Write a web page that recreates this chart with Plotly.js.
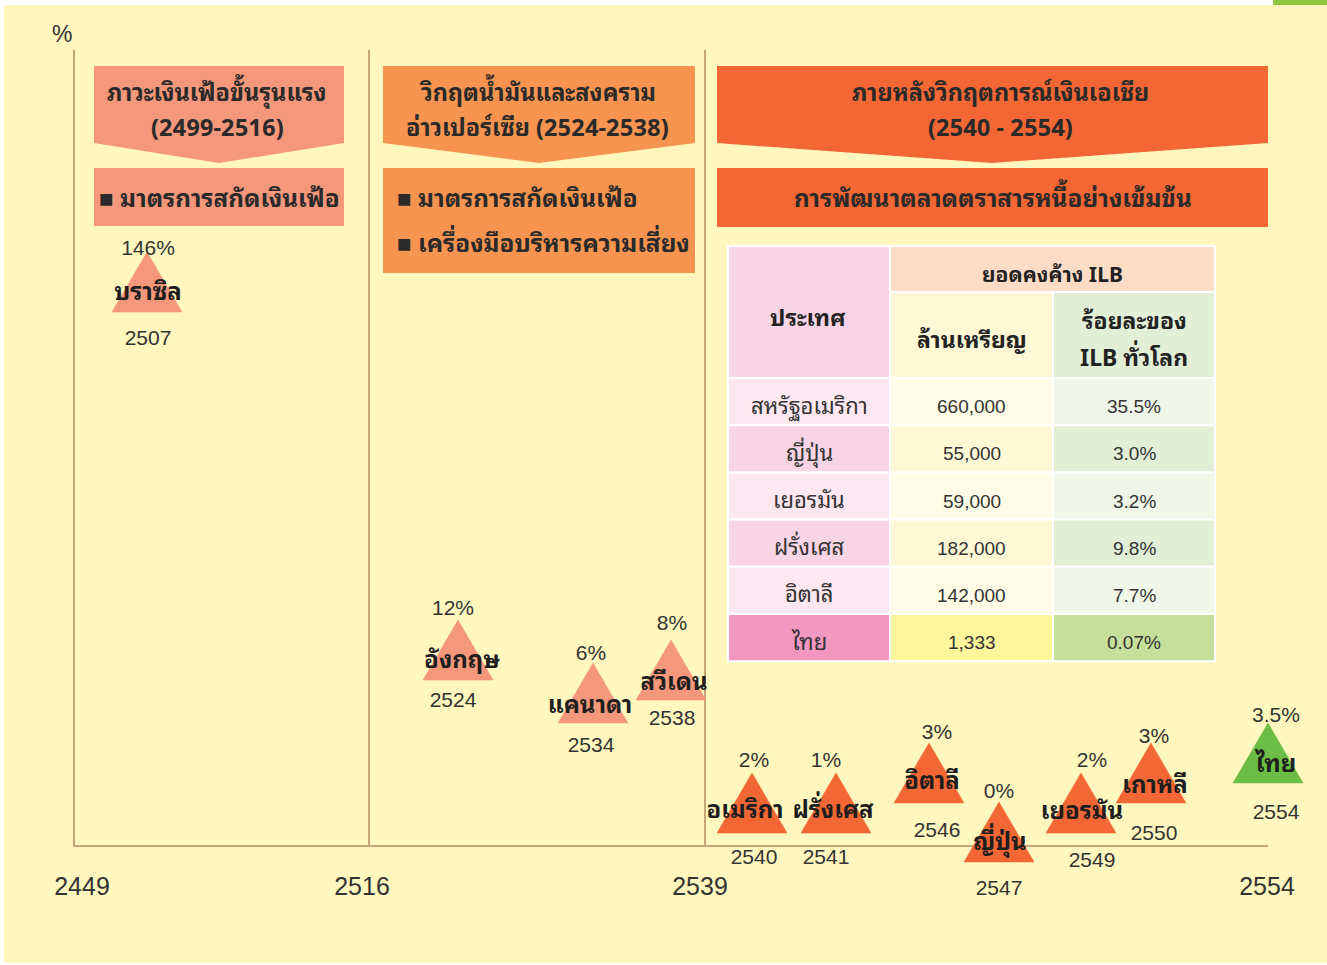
<!DOCTYPE html>
<html><head><meta charset="utf-8">
<script src="https://cdn.plot.ly/plotly-3.0.1.min.js"></script>
<style>html,body{margin:0;padding:0;background:#fff}#chart{width:1327px;height:965px}</style>
</head><body><div id="chart"></div>
<script>
// ================= DATA =================
const countries = ['บราซิล','อังกฤษ','แคนาดา','สวีเดน','อเมริกา','ฝรั่งเศส','อิตาลี','ญี่ปุ่น','เยอรมัน','เกาหลี','ไทย'];
const issueYears = [2507, 2524, 2534, 2538, 2540, 2541, 2546, 2547, 2549, 2550, 2554];
const ilbPercent = [146, 12, 6, 8, 2, 1, 3, 0, 2, 3, 3.5];
const eraOf = ['inflation','oil','oil','oil','asia','asia','asia','asia','asia','asia','thai'];

const timelineYears = [2449, 2516, 2539, 2554];

const eraTitles = [
  ['ภาวะเงินเฟ้อขั้นรุนแรง', '(2499-2516)'],
  ['วิกฤตน้ำมันและสงคราม', 'อ่าวเปอร์เซีย (2524-2538)'],
  ['ภายหลังวิกฤตการณ์เงินเอเชีย', '(2540 - 2554)']
];
const eraMeasures = [
  ['■ มาตรการสกัดเงินเฟ้อ'],
  ['■ มาตรการสกัดเงินเฟ้อ', '■ เครื่องมือบริหารความเสี่ยง'],
  ['การพัฒนาตลาดตราสารหนี้อย่างเข้มข้น']
];

const tableHeadCountry = 'ประเทศ';
const tableHeadGroup = 'ยอดคงค้าง ILB';
const tableHeadCols = ['ล้านเหรียญ', ['ร้อยละของ', 'ILB ทั่วโลก']];
const tableCountries = ['สหรัฐอเมริกา','ญี่ปุ่น','เยอรมัน','ฝรั่งเศส','อิตาลี','ไทย'];
const ilbMillionUSD = [660000, 55000, 59000, 182000, 142000, 1333];
const ilbWorldShare = [35.5, 3.0, 3.2, 9.8, 7.7, 0.07];

// ================= LAYOUT (page pixels) =================
const W = 1327, H = 965;
const slotX = [147, 458, 593, 671, 752, 836, 929, 999, 1081, 1151, 1268];
const baseY = [312, 680, 723, 700, 833, 833, 803, 862, 833, 803, 783];
const triW = 70, triH = 60;
const labelDx = [1, -5, -2, 1, 2, -10, 8, 0, 11, 3, 8];
const nameDx = [1, 4, -3, 3, -7, -3, 3, 1, 1, 4, 8];
const pctDy = [-2, -10, -8, -15, -11, -11, -9, -9, -11, -5, -6];
const nameDy = [-18, -18, -16, -16, -21, -21, -20, -18, -20, -16, -17];
const yearDy = [28, 22, 24, 20, 26, 26, 29, 28, 29, 32, 31];
const tickX = [82, 362, 700, 1267];
const axisBox = {x0: 75, x1: 1268, y0: 50, y1: 845};
const dividerX = [369, 705];

const eraBoxes = [
  {x0: 94, x1: 344, tip: 219, c: '#F5977A', m0: 168, m1: 226},
  {x0: 383, x1: 695, tip: 539, c: '#F7944F', m0: 168, m1: 273},
  {x0: 717, x1: 1268, tip: 992, c: '#F26733', m0: 168, m1: 227}
];
const tbl = {x: [728, 890, 1053, 1215], yTop: 246, yMid: 292, yHead: 378, rowH: 47.2};

const colors = {
  inflation: '#F5977A', oil: '#F5977A', asia: '#F26733', thai: '#6CBD45',
  axis: '#C9A47A', text: '#2A2A2A', bg: '#FFF7BE'
};
const NUM = 'Liberation Sans Narrow, Arial Narrow, Liberation Sans, sans-serif';
const THAI = 'Noto Sans Thai Looped, Noto Sans Thai, Loma, Garuda, Noto Sans, sans-serif';

// ================= BUILD =================
const traces = [];
traces.push({x: [axisBox.x0], y: [axisBox.y1], xaxis: 'x', yaxis: 'y', mode: 'markers',
  marker: {opacity: 0}, hoverinfo: 'skip', showlegend: false});

for (let i = 0; i < countries.length; i++) {
  const cx = slotX[i], by = baseY[i];
  traces.push({
    x: [cx - triW/2, cx + triW/2, cx, cx - triW/2],
    y: [by, by, by - triH, by],
    xaxis: 'x2', yaxis: 'y2', mode: 'lines', fill: 'toself',
    fillcolor: colors[eraOf[i]], line: {color: colors[eraOf[i]], width: 0.5},
    hoverinfo: 'skip', showlegend: false
  });
}
const lx = slotX.map((v, i) => v + labelDx[i]);
traces.push({x: lx, y: baseY.map((v, i) => v - triH + pctDy[i]), text: ilbPercent.map(v => v + '%'),
  mode: 'text', xaxis: 'x2', yaxis: 'y2', textposition: 'middle center', cliponaxis: false,
  textfont: {family: NUM, size: 21, color: '#333'}, hoverinfo: 'skip', showlegend: false});
traces.push({x: slotX.map((v, i) => v + nameDx[i]), y: baseY.map((v, i) => v + nameDy[i]), text: countries,
  mode: 'text', xaxis: 'x2', yaxis: 'y2', textposition: 'middle center', cliponaxis: false,
  textfont: {family: THAI, size: 24, color: '#1E1E1E', weight: 'bold'}, hoverinfo: 'skip', showlegend: false});
traces.push({x: lx, y: baseY.map((v, i) => v + yearDy[i]), text: issueYears.map(String),
  mode: 'text', xaxis: 'x2', yaxis: 'y2', textposition: 'middle center', cliponaxis: false,
  textfont: {family: NUM, size: 21, color: '#333'}, hoverinfo: 'skip', showlegend: false});

const shapes = [];
const annotations = [];
shapes.push({type: 'rect', xref: 'paper', yref: 'paper', x0: 4/W, x1: 1, y0: 1 - 963/H, y1: 1 - 5/H,
  fillcolor: colors.bg, line: {width: 0}, layer: 'below'});
shapes.push({type: 'rect', xref: 'paper', yref: 'paper', x0: 1273/W, x1: 1, y0: 1 - 5/H, y1: 1,
  fillcolor: '#8DC63F', line: {width: 0}, layer: 'below'});
dividerX.forEach(x => shapes.push({type: 'line', xref: 'x', yref: 'y', x0: x, x1: x, y0: axisBox.y0, y1: axisBox.y1,
  line: {color: colors.axis, width: 2}, layer: 'below'}));

eraBoxes.forEach((b, k) => {
  shapes.push({type: 'path', xref: 'x2', yref: 'y2', layer: 'below',
    path: `M${b.x0},66 L${b.x1},66 L${b.x1},143 L${b.tip},163 L${b.x0},143 Z`,
    fillcolor: b.c, line: {width: 0}});
  shapes.push({type: 'rect', xref: 'x2', yref: 'y2', layer: 'below',
    x0: b.x0, x1: b.x1, y0: b.m0, y1: b.m1, fillcolor: b.c, line: {width: 0}});
  const cx = (b.x0 + b.x1) / 2;
  eraTitles[k].forEach((t, j) => annotations.push({xref: 'x2', yref: 'y2', x: k === 2 ? 1000 : cx - 2, y: 90 + j * 35,
    text: t, showarrow: false, xanchor: 'center', yanchor: 'middle',
    font: {family: THAI, size: 23.5, color: colors.text, weight: 'bold'}}));
  eraMeasures[k].forEach((t, j) => annotations.push({xref: 'x2', yref: 'y2',
    x: k === 1 ? b.x0 + 12 : cx, y: 196 + j * 45, text: t, showarrow: false,
    xanchor: k === 1 ? 'left' : 'center', yanchor: 'middle',
    font: {family: THAI, size: 24.3, color: colors.text, weight: 'bold'}}));
});

const cellLine = {color: '#FFFFFF', width: 2};
function cell(x0, x1, y0, y1, c) {
  shapes.push({type: 'rect', xref: 'x2', yref: 'y2', layer: 'below', x0, x1, y0, y1, fillcolor: c, line: cellLine});
}
function txt(x, y, t, size, bold, fam) {
  annotations.push({xref: 'x2', yref: 'y2', x, y, text: t, showarrow: false, xanchor: 'center', yanchor: 'middle',
    font: {family: fam || THAI, size, color: bold ? '#222' : '#333', weight: bold ? 'bold' : 'normal'}});
}
const cx0 = (tbl.x[0] + tbl.x[1]) / 2, cx1 = (tbl.x[1] + tbl.x[2]) / 2, cx2 = (tbl.x[2] + tbl.x[3]) / 2;
cell(tbl.x[0], tbl.x[1], tbl.yTop, tbl.yHead, '#F9D4E4');
cell(tbl.x[1], tbl.x[3], tbl.yTop, tbl.yMid, '#FDDCC5');
cell(tbl.x[1], tbl.x[2], tbl.yMid, tbl.yHead, '#FFF8D5');
cell(tbl.x[2], tbl.x[3], tbl.yMid, tbl.yHead, '#E2EED5');
txt(cx0 - 1, 315, tableHeadCountry, 23, true);
txt((tbl.x[1] + tbl.x[3]) / 2, 272, tableHeadGroup, 21, true);
txt(cx1, 337, tableHeadCols[0], 23, true);
tableHeadCols[1].forEach((t, j) => txt(cx2, 318 + j * 37, t, 23, true));
const rowFill = [
  ['#FDE7F0', '#FFFCE7', '#F0F6E8'],
  ['#F9D4E4', '#FFF8D5', '#E2EED5']
];
const thaiFill = ['#F297C0', '#FFF59B', '#C5E09A'];
tableCountries.forEach((c, r) => {
  const y0 = tbl.yHead + r * tbl.rowH, y1 = y0 + tbl.rowH;
  const f = c === 'ไทย' ? thaiFill : rowFill[r % 2];
  cell(tbl.x[0], tbl.x[1], y0, y1, f[0]);
  cell(tbl.x[1], tbl.x[2], y0, y1, f[1]);
  cell(tbl.x[2], tbl.x[3], y0, y1, f[2]);
  const ym = (y0 + y1) / 2;
  txt(cx0, ym + 2, c, 22, false);
  txt(cx1, ym + 5, ilbMillionUSD[r].toLocaleString('en-US'), 19, false, NUM);
  txt(cx2, ym + 5, ilbWorldShare[r].toFixed(ilbWorldShare[r] < 1 ? 2 : 1) + '%', 19, false, NUM);
});

annotations.push({xref: 'x2', yref: 'y2', x: 62, y: 34, text: '%', showarrow: false,
  font: {family: NUM, size: 23, color: '#333'}});

const layout = {
  width: W, height: H, margin: {l: 0, r: 0, t: 0, b: 0},
  paper_bgcolor: '#FFFFFF', plot_bgcolor: 'rgba(0,0,0,0)', showlegend: false,
  xaxis: {domain: [axisBox.x0 / W, axisBox.x1 / W], range: [axisBox.x0, axisBox.x1], anchor: 'y',
    showline: true, linecolor: colors.axis, linewidth: 2, showgrid: false, zeroline: false,
    tickmode: 'array', tickvals: tickX, ticktext: timelineYears.map(String),
    ticks: 'outside', ticklen: 18, tickcolor: 'rgba(0,0,0,0)',
    tickfont: {family: NUM, size: 25, color: '#333'}, fixedrange: true},
  yaxis: {domain: [1 - axisBox.y1 / H, 1 - axisBox.y0 / H], range: [axisBox.y1, axisBox.y0], anchor: 'x',
    showline: true, linecolor: colors.axis, linewidth: 2, showgrid: false, zeroline: false,
    showticklabels: false, ticks: '', fixedrange: true},
  xaxis2: {domain: [0, 1], range: [0, W], anchor: 'y2', visible: false, fixedrange: true},
  yaxis2: {domain: [0, 1], range: [H, 0], anchor: 'x2', visible: false, fixedrange: true},
  shapes, annotations
};
Plotly.newPlot('chart', traces, layout, {displayModeBar: false, staticPlot: true});
</script></body></html>
